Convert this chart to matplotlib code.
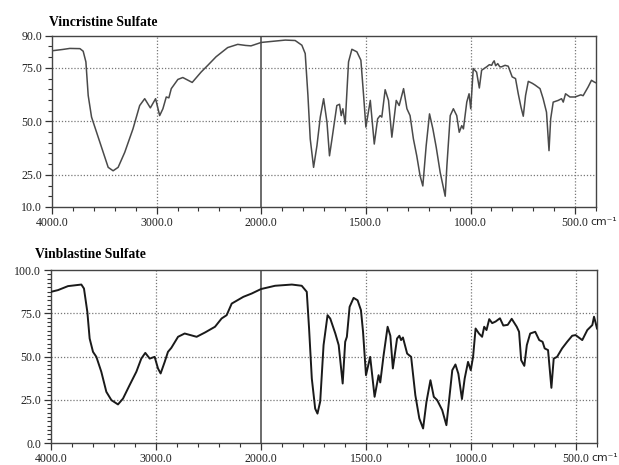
import numpy as np
import matplotlib
matplotlib.use("Agg")
from matplotlib import pyplot as plt
from matplotlib.ticker import FixedLocator


# Vincristine Sulfate (wavenumber cm-1, %T)
vcr_wn = [4000, 3900, 3830, 3733, 3702, 3676, 3654, 3622, 3574, 3511, 3463, 3416, 3368,
          3305, 3226, 3162, 3114, 3060, 3010, 2971, 2940, 2908, 2883, 2860, 2797, 2750,
          2660, 2574, 2511, 2432, 2321, 2225, 2150, 2098, 2000, 1885, 1838, 1806, 1790,
          1777, 1766, 1750, 1734, 1718, 1702, 1686, 1674, 1662, 1639, 1626, 1618, 1610,
          1599, 1583, 1567, 1543, 1524, 1511, 1500, 1479, 1460, 1444, 1432, 1424, 1408,
          1392, 1376, 1355, 1341, 1320, 1304, 1289, 1273, 1257, 1241, 1228, 1212, 1196,
          1180, 1164, 1145, 1121, 1113, 1097, 1082, 1066, 1054, 1042, 1034, 1018, 1007,
          999, 987, 971, 958, 947, 923, 910, 899, 893, 887, 880, 870, 860, 852, 835, 820,
          801, 785, 772, 759, 748, 737, 724, 705, 692, 668, 653, 637, 625, 617, 605, 581,
          565, 557, 546, 525, 501, 473, 462, 438, 422, 409, 400]
vcr_t = [83.0, 83.6, 84.1, 84.0, 82.8, 77.8, 62.1, 52.0, 44.9, 35.5, 28.5, 26.9, 28.5,
         35.5, 46.5, 57.4, 60.6, 56.3, 60.6, 52.7, 55.9, 61.4, 61.0, 65.3, 69.6, 70.5,
         68.2, 73.1, 76.2, 80.2, 84.5, 86.0, 85.5, 85.3, 86.9, 88.0, 87.8, 85.6, 81.7,
         62.1, 41.8, 28.5, 38.6, 52.0, 60.6, 49.6, 33.9, 41.8, 57.4, 58.0, 52.7, 55.9,
         48.8, 77.8, 83.7, 82.5, 78.6, 62.1, 47.3, 59.8, 39.4, 51.2, 52.7, 52.0, 64.8,
         59.8, 42.6, 59.8, 57.4, 65.3, 55.9, 52.7, 41.8, 33.9, 24.5, 19.8, 38.6, 53.5,
         46.5, 37.9, 26.1, 15.0, 29.2, 52.7, 55.9, 52.7, 44.9, 48.0, 46.5, 59.0, 62.9,
         55.9, 74.7, 73.0, 65.6, 73.9, 75.5, 76.5, 76.2, 77.5, 78.3, 76.0, 77.0, 75.5,
         75.5, 76.2, 75.8, 70.8, 70.0, 62.9, 56.7, 52.4, 62.1, 68.7, 67.8, 67.0, 65.3,
         60.6, 54.3, 36.3, 51.2, 59.0, 59.8, 60.6, 59.0, 62.9, 61.4, 61.4, 62.4, 62.0,
         66.1, 69.2, 68.4, 68.0]

# Vinblastine Sulfate
vbl_wn = [4000, 3933, 3838, 3711, 3686, 3654, 3632, 3600, 3568, 3521, 3473, 3425, 3362,
          3314, 3251, 3187, 3140, 3102, 3060, 3013, 2981, 2956, 2917, 2886, 2854, 2790,
          2727, 2613, 2533, 2438, 2375, 2327, 2279, 2168, 2089, 2000, 1933, 1853, 1806,
          1782, 1771, 1758, 1742, 1731, 1718, 1702, 1683, 1670, 1646, 1630, 1611, 1599,
          1591, 1578, 1559, 1540, 1524, 1514, 1500, 1480, 1459, 1440, 1432, 1416, 1397,
          1384, 1372, 1352, 1341, 1333, 1324, 1304, 1285, 1265, 1246, 1228, 1212, 1193,
          1177, 1161, 1137, 1117, 1105, 1089, 1074, 1060, 1043, 1030, 1014, 1001, 990,
          978, 962, 947, 937, 926, 913, 899, 883, 862, 846, 825, 806, 782, 771, 761, 746,
          734, 718, 694, 675, 659, 649, 633, 617, 606, 590, 566, 542, 518, 502, 470, 446,
          422, 414, 406, 400]
vbl_t = [87.4, 88.4, 90.7, 91.6, 89.3, 75.8, 60.4, 52.7, 49.8, 41.2, 29.6, 24.8, 22.3,
         25.7, 33.5, 41.2, 48.8, 52.1, 48.8, 49.8, 43.1, 40.2, 46.9, 52.7, 55.0, 61.4,
         63.3, 61.4, 63.9, 67.2, 72.0, 73.9, 80.6, 84.5, 86.4, 89.0, 90.9, 91.6, 90.9,
         87.4, 66.2, 37.3, 19.9, 17.0, 24.0, 56.6, 73.9, 71.9, 63.3, 56.6, 34.4, 58.5,
         61.4, 78.7, 83.9, 82.5, 76.8, 64.3, 39.2, 49.8, 26.7, 39.2, 35.0, 50.8, 67.2,
         62.0, 43.1, 60.4, 62.0, 59.5, 61.0, 51.7, 49.8, 27.7, 14.2, 8.4, 23.8, 36.3,
         26.7, 24.8, 19.0, 10.3, 23.8, 42.1, 45.4, 40.0, 25.4, 37.3, 46.9, 42.1, 49.8,
         66.2, 63.3, 61.4, 67.2, 65.3, 71.6, 69.3, 70.2, 72.1, 67.9, 68.3, 71.8, 67.2,
         64.3, 47.9, 44.6, 56.6, 63.3, 64.3, 59.5, 58.5, 54.7, 53.7, 31.9, 48.8, 49.8,
         54.7, 58.5, 62.0, 62.4, 59.5, 65.3, 68.2, 73.0, 69.3, 66.2]

major_x = [4000, 3000, 2000, 1500, 1000, 500]
minor_x = [w for w in range(3800, 2000, -200) if w % 1000] + \
          [w for w in range(1900, 399, -100) if w % 500]


def forward(w):
    # IR chart: scale doubles below 2000 cm-1
    w = np.asarray(w, dtype=float)
    return np.where(w >= 2000, (w - 2000) / 1000.0, (w - 2000) / 500.0)


def inverse(u):
    u = np.asarray(u, dtype=float)
    return np.where(u >= 0, 2000 + u * 1000.0, 2000 + u * 500.0)


def setup_axes(ax, ylo, yhi, yticks, yminor):
    ax.set_xscale("function", functions=(forward, inverse))
    ax.set_xlim(4000, 400)
    ax.set_ylim(ylo, yhi)
    ax.xaxis.set_major_locator(FixedLocator(major_x))
    ax.xaxis.set_minor_locator(FixedLocator(minor_x))
    ax.set_xticklabels(["%.1f" % w for w in major_x])
    ax.yaxis.set_major_locator(FixedLocator(yticks))
    ax.yaxis.set_minor_locator(FixedLocator(yminor))
    ax.set_yticklabels(["%.1f" % v for v in yticks])
    for lab in ax.get_xticklabels() + ax.get_yticklabels():
        lab.set_fontfamily("Liberation Serif")
        lab.set_fontsize(8.6)
        lab.set_color("#222222")
    ax.tick_params(which="major", length=5, width=0.9, color="#333333", pad=2)
    ax.tick_params(which="minor", length=3, width=0.8, color="#333333")
    for v in [3000, 1500, 1000, 500]:
        ax.axvline(v, color="#777777", ls=(0, (1, 1.5)), lw=0.9, zorder=1)
    for v in yticks[1:-1]:
        ax.axhline(v, color="#777777", ls=(0, (1, 1.5)), lw=0.9, zorder=1)
    ax.axvline(2000, color="#444444", lw=1.1, zorder=1)
    for s in ax.spines.values():
        s.set_color("#444444")
        s.set_linewidth(1.0)
    ax.annotate("cm⁻¹", xy=(1, 0), xycoords="axes fraction",
                xytext=(-4, -10.5), textcoords="offset points",
                ha="left", va="center", fontsize=7.8, color="#222222",
                fontfamily="DejaVu Sans")


fig = plt.figure(figsize=(6.19, 4.65), dpi=100)

ax1 = fig.add_axes([0.084, 0.555, 0.879, 0.368])
setup_axes(ax1, 10, 90, [10, 25, 50, 75, 90], list(range(15, 90, 5)))
ax1.plot(vcr_wn, vcr_t, color="#4a4a4a", lw=1.1, zorder=3)

ax2 = fig.add_axes([0.0824, 0.0473, 0.882, 0.372])
setup_axes(ax2, 0, 100, [0, 25, 50, 75, 100], list(np.arange(2.5, 100, 2.5)))
ax2.plot(vbl_wn, vbl_t, color="#1a1a1a", lw=1.4, zorder=3)

fig.text(49 / 619, 1 - 22 / 465, "Vincristine Sulfate", fontfamily="Liberation Serif",
         fontweight="bold", fontsize=9.8, va="center", ha="left")
fig.text(35 / 619, 1 - 255 / 465, "Vinblastine Sulfate", fontfamily="Liberation Serif",
         fontweight="bold", fontsize=9.8, va="center", ha="left")

fig.savefig("out.png", dpi=100)
